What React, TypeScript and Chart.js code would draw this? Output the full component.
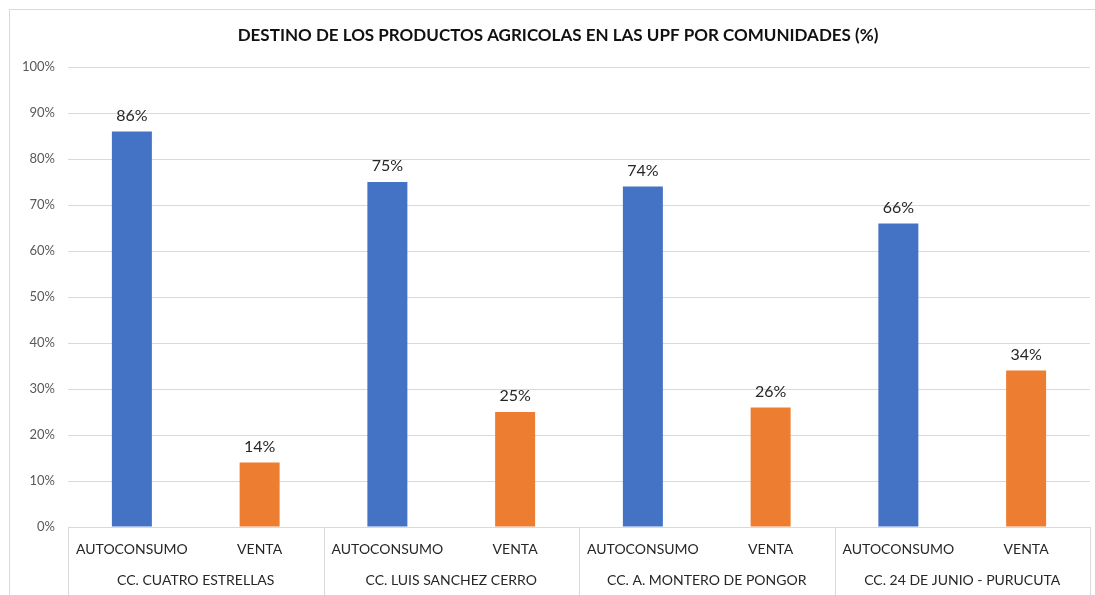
import React, { useEffect, useRef } from "react";
import { Chart, registerables } from "chart.js";

Chart.register(...registerables);

const TITLE = "DESTINO DE LOS PRODUCTOS AGRICOLAS EN LAS UPF POR COMUNIDADES (%)";
const groups = [
  "CC. CUATRO ESTRELLAS",
  "CC. LUIS SANCHEZ CERRO",
  "CC. A. MONTERO DE PONGOR",
  "CC. 24 DE JUNIO - PURUCUTA",
];
const subCategories = ["AUTOCONSUMO", "VENTA"];
const autoconsumo = [86, 75, 74, 66];
const venta = [14, 25, 26, 34];
const subColors = ["#4472C4", "#ED7D31"];
const yTicks = [0, 10, 20, 30, 40, 50, 60, 70, 80, 90, 100];

const FONT = "Lato, 'Open Sans', sans-serif";
const W = 1095;
const H = 595;

export default function App() {
  const ref = useRef<HTMLCanvasElement>(null);
  useEffect(() => {
    const canvas = ref.current;
    if (!canvas) return;
    const labels: string[] = [];
    const values: number[] = [];
    const colors: string[] = [];
    groups.forEach((_, i) => {
      labels.push(subCategories[0]);
      values.push(autoconsumo[i]);
      colors.push(subColors[0]);
      labels.push(subCategories[1]);
      values.push(venta[i]);
      colors.push(subColors[1]);
    });

    const frame = {
      id: "frame",
      beforeDraw(chart: any) {
        const ctx = chart.ctx;
        ctx.save();
        ctx.fillStyle = "#ffffff";
        ctx.fillRect(0, 0, chart.width, chart.height);
        ctx.strokeStyle = "#d9d9d9";
        ctx.lineWidth = 1;
        ctx.strokeRect(9.5, 9.5, 3000, 3000);
        ctx.font = `bold 17px ${FONT}`;
        ctx.fillStyle = "#111111";
        ctx.textAlign = "center";
        ctx.textBaseline = "middle";
        ctx.fillText(TITLE, 558, 36);
        ctx.restore();
      },
    };

    const valueLabels = {
      id: "valueLabels",
      afterDatasetsDraw(chart: any) {
        const ctx = chart.ctx;
        const meta = chart.getDatasetMeta(0);
        ctx.save();
        ctx.font = `16px ${FONT}`;
        ctx.fillStyle = "#262626";
        ctx.textAlign = "center";
        ctx.textBaseline = "middle";
        meta.data.forEach((bar: any, i: number) => {
          ctx.fillText(values[i] + "%", bar.x, bar.y - 16);
        });
        ctx.restore();
      },
    };

    const groupAxis = {
      id: "groupAxis",
      afterDraw(chart: any) {
        const ctx = chart.ctx;
        const x = chart.scales.x;
        const area = chart.chartArea;
        const step = (x.right - x.left) / labels.length;
        ctx.save();
        ctx.strokeStyle = "#d9d9d9";
        ctx.lineWidth = 1;
        for (let g = 0; g <= groups.length; g++) {
          const px =
            g < groups.length
              ? x.getPixelForValue(g * 2) - step / 2
              : x.right;
          const xx = Math.round(px) + 0.5;
          ctx.beginPath();
          ctx.moveTo(xx, area.bottom);
          ctx.lineTo(xx, chart.height);
          ctx.stroke();
        }
        ctx.font = `14px ${FONT}`;
        ctx.fillStyle = "#262626";
        ctx.textAlign = "center";
        ctx.textBaseline = "middle";
        groups.forEach((g, i) => {
          const cx =
            (x.getPixelForValue(i * 2) + x.getPixelForValue(i * 2 + 1)) / 2;
          ctx.fillText(g, cx, 580);
        });
        ctx.restore();
      },
    };

    const chart = new Chart(canvas, {
      type: "bar",
      data: {
        labels,
        datasets: [
          {
            data: values,
            backgroundColor: colors,
            borderWidth: 0,
            barPercentage: 0.313,
            categoryPercentage: 1,
          },
        ],
      },
      options: {
        responsive: false,
        animation: false,
        layout: { padding: { left: 0, right: 5, top: 67, bottom: 0 } },
        plugins: {
          legend: { display: false },
          tooltip: { enabled: false },
          title: { display: false },
        },
        scales: {
          x: {
            grid: { display: false, drawTicks: false },
            border: { display: false },
            ticks: {
              color: "#262626",
              font: { family: FONT, size: 14 },
              padding: 14,
              maxRotation: 0,
              autoSkip: false,
            },
            afterFit(scale: any) {
              scale.height = 68;
            },
          },
          y: {
            min: 0,
            max: 100,
            afterBuildTicks(scale: any) {
              scale.ticks = yTicks.map((v) => ({ value: v }));
            },
            grid: { color: "#d9d9d9", drawTicks: false, lineWidth: 1 },
            border: { display: false },
            ticks: {
              color: "#595959",
              font: { family: FONT, size: 13 },
              padding: 13,
              callback: (v: any) => v + "%",
            },
            afterFit(scale: any) {
              scale.width = 68;
            },
          },
        },
      },
      plugins: [frame, valueLabels, groupAxis],
    });
    return () => chart.destroy();
  }, []);

  return (
    <div style={{ position: "absolute", left: 0, top: 0, width: W, height: H }}>
      <canvas ref={ref} width={W} height={H} style={{ width: W, height: H }} />
    </div>
  );
}
